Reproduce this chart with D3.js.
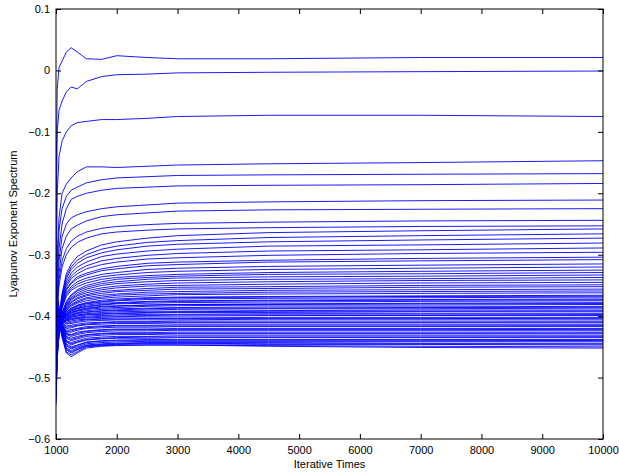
<!DOCTYPE html>
<html><head><meta charset="utf-8">
<script src="https://cdn.jsdelivr.net/npm/d3@7/dist/d3.min.js"></script>
<style>body{margin:0;background:#fff}svg{display:block}text{font-family:"Liberation Sans",Arial,sans-serif}</style>
</head><body><svg id="c" width="619" height="475"></svg>
<script>
// Sample iterations (x) shared by all series
const iterations = [1000, 1020, 1050, 1100, 1170, 1250, 1350, 1500, 1750, 2000, 2500, 3000, 4500, 7000, 10000];
const xTicks = [1000,2000,3000,4000,5000,6000,7000,8000,9000,10000];
const yTicks = [-0.6,-0.5,-0.4,-0.3,-0.2,-0.1,0,0.1];
// Upper, well separated exponents
const upperSeries = [
 [-0.20,-0.03,0.005,0.015,0.03,0.037,0.03,0.019,0.018,0.024,0.021,0.019,0.019,0.021,0.021],
 [-0.30,-0.10,-0.065,-0.05,-0.035,-0.027,-0.03,-0.018,-0.01,-0.007,-0.006,-0.004,-0.003,-0.002,-0.001],
 [-0.40,-0.20,-0.14,-0.115,-0.10,-0.09,-0.085,-0.083,-0.08,-0.08,-0.078,-0.075,-0.073,-0.073,-0.075],
 [-0.45,-0.30,-0.24,-0.20,-0.185,-0.175,-0.165,-0.157,-0.157,-0.158,-0.156,-0.154,-0.152,-0.150,-0.147],
 [-0.45,-0.32,-0.26,-0.225,-0.205,-0.195,-0.19,-0.183,-0.178,-0.175,-0.173,-0.171,-0.170,-0.169,-0.168],
 [-0.46,-0.34,-0.29,-0.25,-0.225,-0.21,-0.205,-0.20,-0.195,-0.192,-0.19,-0.188,-0.187,-0.186,-0.184],
 [-0.46,-0.36,-0.31,-0.27,-0.25,-0.24,-0.235,-0.23,-0.225,-0.222,-0.219,-0.216,-0.214,-0.212,-0.211],
 [-0.47,-0.37,-0.33,-0.29,-0.27,-0.258,-0.252,-0.245,-0.238,-0.235,-0.232,-0.229,-0.227,-0.226,-0.225],
 [-0.47,-0.38,-0.34,-0.31,-0.29,-0.278,-0.27,-0.263,-0.257,-0.254,-0.251,-0.249,-0.247,-0.245,-0.244],
 [-0.48,-0.39,-0.35,-0.32,-0.30,-0.288,-0.28,-0.273,-0.266,-0.263,-0.26,-0.258,-0.256,-0.254,-0.253],
 [-0.48,-0.43,-0.40,-0.363,-0.331,-0.315,-0.303,-0.294,-0.284,-0.279,-0.273,-0.269,-0.264,-0.261,-0.258],
 [-0.49,-0.44,-0.40,-0.366,-0.335,-0.32,-0.309,-0.30,-0.291,-0.286,-0.28,-0.277,-0.272,-0.269,-0.266],
 [-0.47,-0.43,-0.41,-0.369,-0.339,-0.324,-0.314,-0.305,-0.297,-0.292,-0.286,-0.283,-0.279,-0.276,-0.273],
 [-0.50,-0.45,-0.41,-0.371,-0.344,-0.33,-0.32,-0.312,-0.303,-0.299,-0.294,-0.291,-0.286,-0.284,-0.281],
 [-0.46,-0.43,-0.41,-0.374,-0.348,-0.335,-0.326,-0.318,-0.31,-0.306,-0.301,-0.298,-0.294,-0.292,-0.289],
 [-0.51,-0.45,-0.42,-0.377,-0.352,-0.339,-0.331,-0.323,-0.316,-0.312,-0.307,-0.305,-0.301,-0.298,-0.296],
 [-0.45,-0.43,-0.41,-0.379,-0.356,-0.345,-0.336,-0.33,-0.323,-0.319,-0.314,-0.312,-0.309,-0.306,-0.304],
 [-0.52,-0.46,-0.42,-0.381,-0.358,-0.347,-0.339,-0.333,-0.326,-0.323,-0.318,-0.316,-0.312,-0.31,-0.308],
 [-0.44,-0.42,-0.41,-0.383,-0.362,-0.352,-0.344,-0.338,-0.332,-0.329,-0.324,-0.322,-0.319,-0.317,-0.315],
 [-0.50,-0.45,-0.42,-0.385,-0.365,-0.355,-0.348,-0.342,-0.336,-0.333,-0.329,-0.327,-0.324,-0.322,-0.32],
 [-0.43,-0.42,-0.41,-0.387,-0.368,-0.358,-0.352,-0.346,-0.34,-0.337,-0.334,-0.332,-0.329,-0.327,-0.325]
];
// Dense band, rising to their limit
const middleSeries = [
 [-0.47,-0.43,-0.415,-0.394,-0.376,-0.365,-0.357,-0.35,-0.344,-0.34,-0.337,-0.335,-0.332,-0.331,-0.329],
 [-0.36,-0.39,-0.405,-0.395,-0.378,-0.367,-0.359,-0.353,-0.347,-0.344,-0.34,-0.338,-0.336,-0.335,-0.333],
 [-0.53,-0.46,-0.42,-0.396,-0.38,-0.37,-0.362,-0.356,-0.35,-0.347,-0.344,-0.342,-0.34,-0.339,-0.337],
 [-0.40,-0.41,-0.41,-0.397,-0.382,-0.372,-0.365,-0.359,-0.354,-0.351,-0.348,-0.346,-0.344,-0.342,-0.341],
 [-0.49,-0.44,-0.415,-0.398,-0.384,-0.374,-0.367,-0.362,-0.357,-0.354,-0.351,-0.35,-0.348,-0.346,-0.345],
 [-0.33,-0.37,-0.395,-0.399,-0.385,-0.377,-0.37,-0.365,-0.36,-0.358,-0.355,-0.353,-0.352,-0.35,-0.349],
 [-0.51,-0.45,-0.42,-0.399,-0.387,-0.378,-0.372,-0.367,-0.363,-0.36,-0.358,-0.356,-0.355,-0.353,-0.352],
 [-0.42,-0.41,-0.41,-0.40,-0.388,-0.381,-0.375,-0.37,-0.366,-0.364,-0.361,-0.36,-0.358,-0.357,-0.356],
 [-0.545,-0.47,-0.43,-0.401,-0.39,-0.382,-0.377,-0.372,-0.369,-0.366,-0.364,-0.363,-0.361,-0.36,-0.359],
 [-0.38,-0.40,-0.41,-0.402,-0.391,-0.384,-0.379,-0.375,-0.371,-0.369,-0.367,-0.365,-0.364,-0.363,-0.362],
 [-0.48,-0.44,-0.42,-0.403,-0.393,-0.387,-0.382,-0.378,-0.374,-0.372,-0.37,-0.369,-0.368,-0.367,-0.366],
 [-0.44,-0.42,-0.41,-0.403,-0.394,-0.388,-0.383,-0.379,-0.376,-0.374,-0.371,-0.37,-0.369,-0.368,-0.3675],
 [-0.35,-0.38,-0.40,-0.404,-0.394,-0.388,-0.384,-0.38,-0.377,-0.375,-0.373,-0.372,-0.371,-0.37,-0.369],
 [-0.50,-0.45,-0.42,-0.404,-0.396,-0.39,-0.386,-0.382,-0.379,-0.378,-0.376,-0.375,-0.374,-0.373,-0.372],
 [-0.36,-0.39,-0.405,-0.405,-0.397,-0.391,-0.387,-0.384,-0.381,-0.379,-0.377,-0.376,-0.375,-0.374,-0.3735],
 [-0.41,-0.41,-0.41,-0.405,-0.397,-0.392,-0.388,-0.385,-0.382,-0.38,-0.379,-0.378,-0.377,-0.376,-0.375],
 [-0.52,-0.46,-0.43,-0.406,-0.398,-0.394,-0.39,-0.387,-0.384,-0.383,-0.382,-0.381,-0.38,-0.379,-0.378],
 [-0.49,-0.44,-0.42,-0.406,-0.399,-0.394,-0.391,-0.388,-0.385,-0.384,-0.382,-0.381,-0.381,-0.38,-0.3795],
 [-0.37,-0.39,-0.405,-0.406,-0.40,-0.395,-0.392,-0.389,-0.387,-0.386,-0.384,-0.383,-0.382,-0.382,-0.381],
 [-0.46,-0.43,-0.415,-0.407,-0.401,-0.397,-0.394,-0.391,-0.389,-0.388,-0.387,-0.386,-0.385,-0.385,-0.384],
 [-0.40,-0.41,-0.41,-0.407,-0.402,-0.398,-0.395,-0.393,-0.391,-0.39,-0.388,-0.387,-0.387,-0.386,-0.3855],
 [-0.39,-0.40,-0.41,-0.408,-0.402,-0.399,-0.396,-0.394,-0.392,-0.391,-0.39,-0.389,-0.388,-0.388,-0.387],
 [-0.50,-0.45,-0.42,-0.409,-0.404,-0.40,-0.398,-0.396,-0.394,-0.393,-0.392,-0.392,-0.391,-0.39,-0.39],
 [-0.53,-0.46,-0.43,-0.41,-0.405,-0.402,-0.399,-0.397,-0.396,-0.395,-0.394,-0.393,-0.392,-0.392,-0.3915],
 [-0.43,-0.42,-0.415,-0.41,-0.405,-0.402,-0.40,-0.398,-0.397,-0.396,-0.395,-0.394,-0.394,-0.393,-0.393],
 [-0.37,-0.39,-0.405,-0.41,-0.406,-0.404,-0.402,-0.40,-0.399,-0.398,-0.397,-0.397,-0.396,-0.396,-0.396],
 [-0.38,-0.39,-0.40,-0.41,-0.407,-0.405,-0.403,-0.402,-0.40,-0.40,-0.399,-0.398,-0.398,-0.398,-0.3975],
 [-0.54,-0.47,-0.43,-0.412,-0.408,-0.406,-0.404,-0.403,-0.402,-0.401,-0.40,-0.40,-0.399,-0.399,-0.399]
];
// Lowest exponents, dipping then settling
const lowerSeries = [
 [-0.38,-0.39,-0.40,-0.405,-0.41,-0.408,-0.406,-0.405,-0.404,-0.403,-0.403,-0.403,-0.402,-0.402,-0.402],
 [-0.47,-0.43,-0.41,-0.407,-0.412,-0.41,-0.408,-0.406,-0.405,-0.405,-0.404,-0.404,-0.404,-0.404,-0.4035],
 [-0.45,-0.42,-0.405,-0.408,-0.413,-0.412,-0.41,-0.408,-0.407,-0.406,-0.406,-0.406,-0.405,-0.405,-0.405],
 [-0.36,-0.38,-0.395,-0.41,-0.416,-0.415,-0.413,-0.411,-0.41,-0.409,-0.409,-0.408,-0.408,-0.408,-0.408],
 [-0.37,-0.39,-0.40,-0.411,-0.418,-0.417,-0.415,-0.413,-0.411,-0.41,-0.41,-0.41,-0.41,-0.41,-0.4095],
 [-0.42,-0.41,-0.405,-0.412,-0.42,-0.419,-0.416,-0.414,-0.413,-0.412,-0.412,-0.411,-0.411,-0.411,-0.411],
 [-0.50,-0.45,-0.42,-0.414,-0.423,-0.422,-0.42,-0.417,-0.416,-0.415,-0.415,-0.414,-0.414,-0.414,-0.414],
 [-0.45,-0.43,-0.41,-0.414,-0.425,-0.424,-0.421,-0.419,-0.417,-0.416,-0.416,-0.416,-0.416,-0.416,-0.4155],
 [-0.39,-0.40,-0.40,-0.415,-0.426,-0.426,-0.423,-0.42,-0.419,-0.418,-0.418,-0.417,-0.417,-0.417,-0.417],
 [-0.35,-0.37,-0.39,-0.413,-0.428,-0.43,-0.426,-0.424,-0.422,-0.421,-0.421,-0.42,-0.42,-0.42,-0.42],
 [-0.41,-0.41,-0.40,-0.417,-0.429,-0.431,-0.428,-0.425,-0.423,-0.422,-0.422,-0.422,-0.422,-0.422,-0.4215],
 [-0.47,-0.43,-0.41,-0.416,-0.43,-0.433,-0.43,-0.427,-0.425,-0.424,-0.424,-0.423,-0.423,-0.423,-0.423],
 [-0.40,-0.40,-0.40,-0.418,-0.433,-0.436,-0.433,-0.43,-0.428,-0.427,-0.427,-0.426,-0.426,-0.426,-0.426],
 [-0.50,-0.45,-0.42,-0.419,-0.434,-0.438,-0.435,-0.431,-0.429,-0.428,-0.428,-0.428,-0.428,-0.428,-0.4275],
 [-0.33,-0.36,-0.385,-0.415,-0.436,-0.44,-0.437,-0.433,-0.431,-0.43,-0.43,-0.429,-0.429,-0.429,-0.429],
 [-0.44,-0.42,-0.41,-0.42,-0.44,-0.443,-0.44,-0.436,-0.434,-0.433,-0.433,-0.432,-0.432,-0.432,-0.432],
 [-0.36,-0.38,-0.395,-0.421,-0.441,-0.445,-0.442,-0.438,-0.436,-0.435,-0.434,-0.434,-0.434,-0.434,-0.4335],
 [-0.38,-0.39,-0.40,-0.422,-0.442,-0.447,-0.443,-0.439,-0.437,-0.436,-0.436,-0.435,-0.435,-0.435,-0.435],
 [-0.52,-0.46,-0.42,-0.425,-0.445,-0.45,-0.447,-0.442,-0.44,-0.439,-0.438,-0.438,-0.438,-0.438,-0.438],
 [-0.44,-0.42,-0.41,-0.427,-0.447,-0.452,-0.448,-0.443,-0.441,-0.44,-0.44,-0.44,-0.44,-0.44,-0.4395],
 [-0.41,-0.41,-0.405,-0.428,-0.449,-0.453,-0.45,-0.445,-0.443,-0.442,-0.441,-0.441,-0.441,-0.441,-0.441],
 [-0.34,-0.37,-0.39,-0.426,-0.452,-0.456,-0.452,-0.447,-0.445,-0.444,-0.443,-0.443,-0.443,-0.444,-0.444],
 [-0.40,-0.40,-0.40,-0.43,-0.454,-0.458,-0.454,-0.448,-0.446,-0.445,-0.444,-0.444,-0.445,-0.445,-0.4455],
 [-0.46,-0.43,-0.415,-0.43,-0.455,-0.46,-0.455,-0.449,-0.447,-0.446,-0.445,-0.445,-0.446,-0.446,-0.447],
 [-0.39,-0.40,-0.40,-0.432,-0.458,-0.463,-0.458,-0.45,-0.448,-0.447,-0.447,-0.447,-0.448,-0.449,-0.45],
 [-0.43,-0.42,-0.41,-0.435,-0.46,-0.466,-0.46,-0.452,-0.449,-0.448,-0.447,-0.447,-0.449,-0.451,-0.452]
];
const xLabel = "Iterative Times";
const yLabel = "Lyapunov Exponent Spectrum";

const L = 56, R = 603, T = 9, B = 439;
const svg = d3.select("#c");
const x = d3.scaleLinear().domain([1000, 10000]).range([L, R]);
const y = d3.scaleLinear().domain([-0.6, 0.1]).range([B, T]);

svg.append("defs").append("clipPath").attr("id","clip")
  .append("rect").attr("x",L).attr("y",T).attr("width",R-L).attr("height",B-T);

const allSeries = upperSeries.concat(middleSeries, lowerSeries);
const line = d3.line().x((d,i)=>x(iterations[i])).y(d=>y(d));
svg.append("g").attr("clip-path","url(#clip)")
  .selectAll("path").data(allSeries).join("path")
  .attr("d", line).attr("fill","none").attr("stroke","#0000ff").attr("stroke-width",0.9);

function styleAxis(g){ g.select(".domain").remove(); g.selectAll("line").attr("stroke","#000");
  g.selectAll("text").attr("font-size","11px").attr("fill","#000"); }
svg.append("g").attr("transform",`translate(0,${B})`)
  .call(d3.axisBottom(x).tickValues(xTicks).tickSizeInner(-5).tickSizeOuter(0).tickPadding(7).tickFormat(d3.format("d")))
  .call(styleAxis);
svg.append("g").attr("transform",`translate(0,${T})`)
  .call(d3.axisTop(x).tickValues(xTicks).tickSizeInner(-5).tickSizeOuter(0).tickFormat(""))
  .call(styleAxis);
svg.append("g").attr("transform",`translate(${L},0)`)
  .call(d3.axisLeft(y).tickValues(yTicks).tickSizeInner(-5).tickSizeOuter(0).tickPadding(6).tickFormat(d=>d3.format(".1f")(d).replace(/\.0$/,"").replace("-","\u2212")))
  .call(styleAxis);
svg.append("g").attr("transform",`translate(${R},0)`)
  .call(d3.axisRight(y).tickValues(yTicks).tickSizeInner(-5).tickSizeOuter(0).tickFormat(""))
  .call(styleAxis);
svg.append("rect").attr("x",L).attr("y",T).attr("width",R-L).attr("height",B-T)
  .attr("fill","none").attr("stroke","#000").attr("stroke-width",1);

svg.append("text").attr("x",(L+R)/2).attr("y",468).attr("text-anchor","middle")
  .attr("font-size","11px").text(xLabel);
svg.append("text").attr("transform",`translate(17,${(T+B)/2}) rotate(-90)`).attr("text-anchor","middle")
  .attr("font-size","11px").text(yLabel);
</script></body></html>
